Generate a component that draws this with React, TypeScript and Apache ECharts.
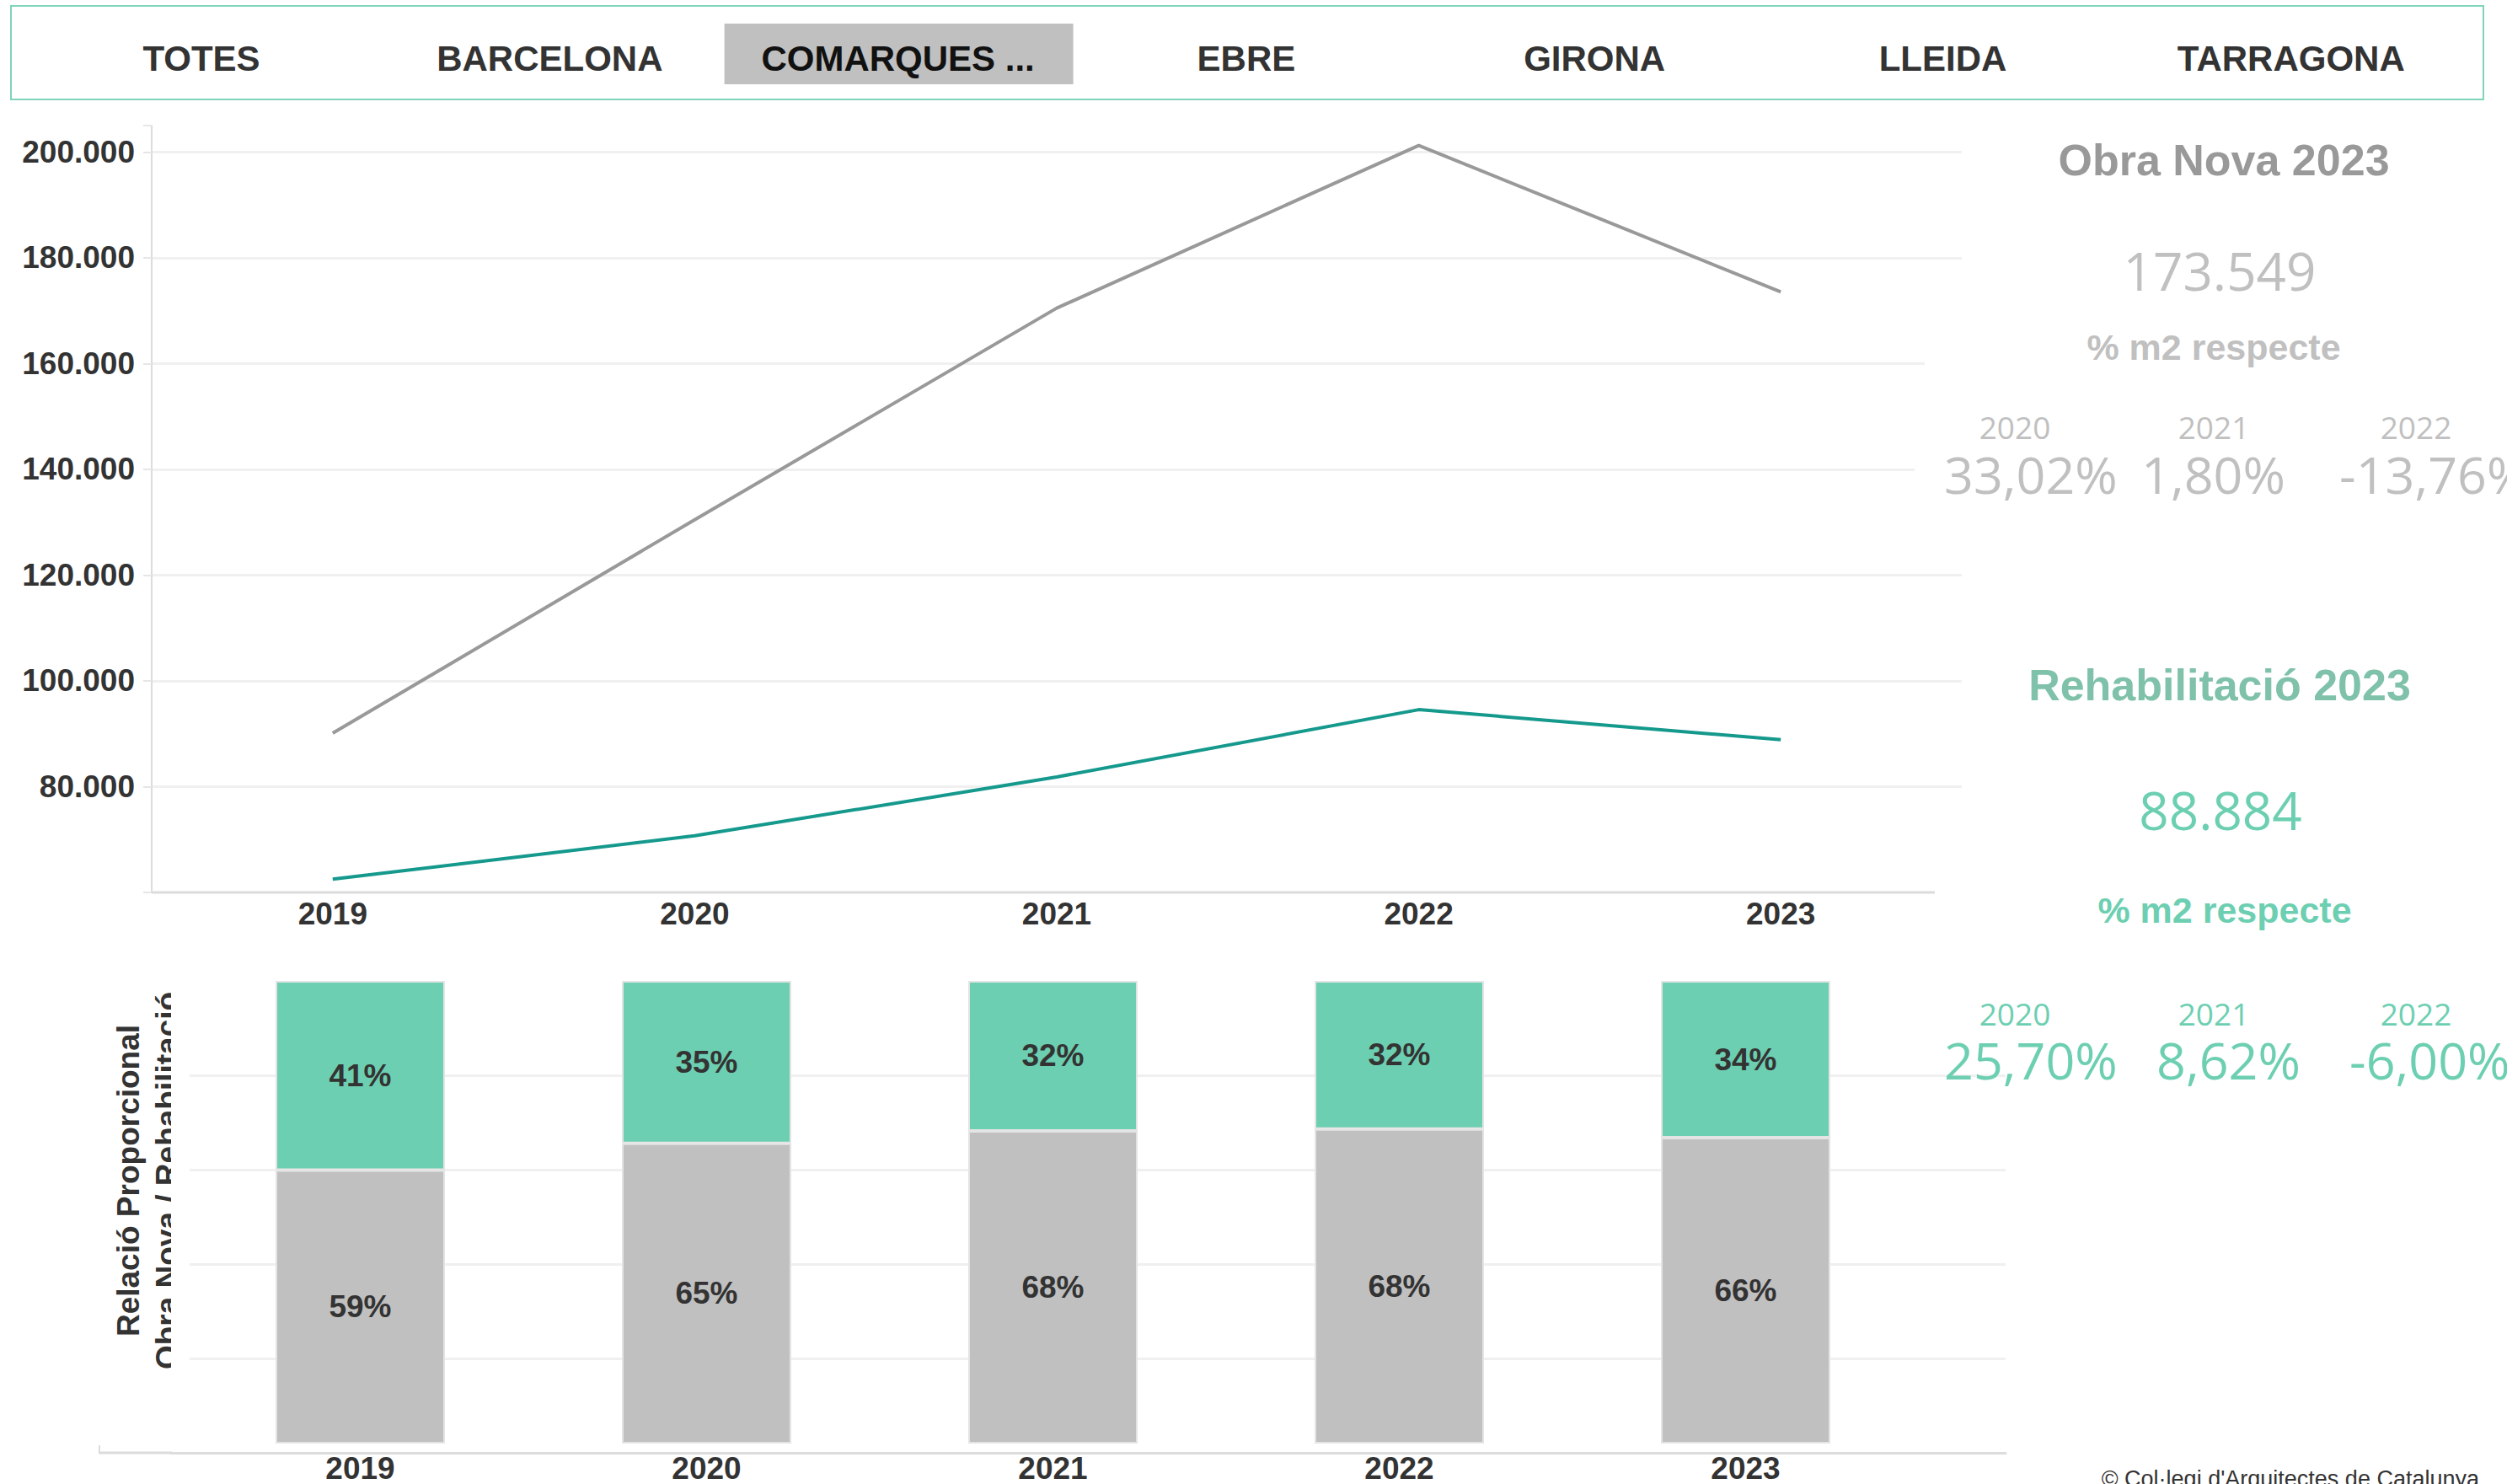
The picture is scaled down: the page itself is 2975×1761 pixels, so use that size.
import React, { useEffect, useRef } from 'react';
import * as echarts from 'echarts';

// ---------- data ----------
const years = ['2019', '2020', '2021', '2022', '2023'];
const obraNova = [90100, 130470, 170480, 201240, 173549];
const rehabilitacio = [62500, 70710, 81830, 94560, 88884];
const shareObraNova = [59.1, 64.9, 67.6, 68.0, 66.1];
const shareRehab = [40.9, 35.1, 32.4, 32.0, 33.9];
const filterButtons = ['TOTES', 'BARCELONA', 'COMARQUES ...', 'EBRE', 'GIRONA', 'LLEIDA', 'TARRAGONA'];
const selectedButton = 'COMARQUES ...';
const compareYears = ['2020', '2021', '2022'];
const obraNovaChange = ['33,02%', '1,80%', '-13,76%'];
const rehabChange = ['25,70%', '8,62%', '-6,00%'];
const obraNovaTitle = 'Obra Nova 2023';
const rehabTitle = 'Rehabilitació 2023';
const obraNovaTotal = '173.549';
const rehabTotal = '88.884';
const respecteLabel = '% m2 respecte';
const yAxisTitle = ['Relació Proporcional', 'Obra Nova / Rehabilitació'];
const copyright = '© Col·legi d\'Arquitectes de Catalunya';

// ---------- styles ----------
const SANS = 'Liberation Sans, Arial, sans-serif';
const LIGHT = 'Open Sans, Noto Sans, sans-serif';
const GRAY_TXT = '#c0c0c0';
const GREEN = '#6dcfb1';
const DARK = '#333333';

const fmtThousands = (v: number) => String(v).replace(/\B(?=(\d{3})+(?!\d))/g, '.');

function txt(x: number, y: number, text: string, o: any = {}) {
  const align = o.align || 'center';
  const valign = o.valign || 'middle';
  return {
    type: 'text',
    x,
    y,
    rotation: o.rotation || 0,
    z: o.z ?? 10,
    style: {
      text,
      fontSize: o.size || 20,
      fontWeight: o.weight || 'normal',
      fontFamily: o.family || SANS,
      fill: o.color || DARK,
      align,
      textAlign: align,
      verticalAlign: valign,
      textVerticalAlign: valign,
    },
  };
}

export default function App() {
  const ref = useRef<HTMLDivElement>(null);

  useEffect(() => {
    if (!ref.current) return;
    const chart = echarts.init(ref.current, undefined, { renderer: 'svg' });

    const graphics: any[] = [];
    // filter bar
    graphics.push({
      type: 'rect',
      z: 1,
      shape: { x: 13, y: 7, width: 2934, height: 111 },
      style: { fill: '#ffffff', stroke: '#80d4bb', lineWidth: 2 },
    });
    const btnX0 = 239;
    const btnStep = 413.3;
    filterButtons.forEach((b, i) => {
      const cx = btnX0 + i * btnStep;
      if (b === selectedButton) {
        graphics.push({
          type: 'rect',
          z: 2,
          shape: { x: cx - 206, y: 28, width: 414, height: 72 },
          style: { fill: '#c0c0c0' },
        });
      }
      graphics.push(txt(cx, 69, b, { size: 42, weight: 'bold', color: b === selectedButton ? '#111' : DARK, z: 3 }));
    });

    // right panel: Obra Nova
    graphics.push(txt(2639, 190, obraNovaTitle, { size: 52, weight: 'bold', color: '#999999' }));
    graphics.push(txt(2634, 321, obraNovaTotal, { size: 62, family: LIGHT, color: GRAY_TXT }));
    graphics.push(txt(2627, 412, respecteLabel, { size: 43, weight: 'bold', color: GRAY_TXT }));
    const yearCx = [2391, 2627, 2867];
    const obraPctX = [2307, 2541, 2776];
    const rehabPctX = [2307, 2559, 2788];
    compareYears.forEach((y, i) => {
      graphics.push(txt(yearCx[i], 506, y, { size: 37, family: LIGHT, color: GRAY_TXT }));
      graphics.push(txt(obraPctX[i], 562, obraNovaChange[i], { size: 61, family: LIGHT, color: GRAY_TXT, align: 'left' }));
    });

    // right panel: Rehabilitació
    graphics.push(txt(2634, 813, rehabTitle, { size: 52, weight: 'bold', color: '#7fc2a9' }));
    graphics.push(txt(2635, 961, rehabTotal, { size: 62, family: LIGHT, color: GREEN }));
    graphics.push(txt(2640, 1080, respecteLabel, { size: 43, weight: 'bold', color: GREEN }));
    compareYears.forEach((y, i) => {
      graphics.push(txt(yearCx[i], 1202, y, { size: 37, family: LIGHT, color: GREEN }));
      graphics.push(txt(rehabPctX[i], 1257, rehabChange[i], { size: 61, family: LIGHT, color: GREEN, align: 'left' }));
    });

    // white masks where the text boxes cover gridlines
    graphics.push({ type: 'rect', z: 5, shape: { x: 2284, y: 424, width: 60, height: 14 }, style: { fill: '#ffffff' } });
    graphics.push({ type: 'rect', z: 5, shape: { x: 2272, y: 549, width: 70, height: 14 }, style: { fill: '#ffffff' } });

    // top chart category axis line (shorter than the plot area, as in the original)
    graphics.push({ type: 'line', z: 4, shape: { x1: 180, y1: 1059, x2: 2296, y2: 1059 }, style: { stroke: '#dcdcdc', lineWidth: 3 } });

    // bottom chart y title (rotated, second line clipped)
    graphics.push(txt(152, 1401, yAxisTitle[0], { size: 37, weight: 'bold', rotation: Math.PI / 2 }));
    graphics.push(txt(198, 1401, yAxisTitle[1], { size: 37, weight: 'bold', rotation: Math.PI / 2 }));
    graphics.push({ type: 'rect', z: 20, shape: { x: 203, y: 1160, width: 22, height: 480 }, style: { fill: '#ffffff' } });

    // bottom axis extension with small tick at the left end
    graphics.push({ type: 'line', z: 4, shape: { x1: 117, y1: 1724, x2: 204, y2: 1724 }, style: { stroke: '#dcdcdc', lineWidth: 3 } });
    graphics.push({ type: 'line', z: 4, shape: { x1: 118, y1: 1715, x2: 118, y2: 1724 }, style: { stroke: '#dcdcdc', lineWidth: 2 } });

    // copyright
    graphics.push(txt(2942, 1755, copyright, { size: 27, color: DARK, align: 'right' }));

    const barLabel = {
      show: true,
      position: 'inside',
      formatter: (p: any) => Math.round(p.value) + '%',
      fontSize: 37,
      fontWeight: 'bold',
      fontFamily: SANS,
      color: DARK,
      textBorderWidth: 0,
    };

    const option: any = {
      animation: false,
      backgroundColor: '#ffffff',
      textStyle: { fontFamily: SANS },
      grid: [
        { left: 180, top: 149, width: 2148, height: 910 },
        { left: 222, top: 1164, width: 2055, height: 558 },
        { left: 203, top: 1164, width: 2177, height: 560 },
      ],
      xAxis: [
        {
          gridIndex: 0,
          type: 'category',
          data: years,
          boundaryGap: true,
          axisLine: { show: false },
          axisTick: { show: false },
          axisLabel: { color: DARK, fontSize: 37, fontWeight: 'bold', fontFamily: SANS, margin: 7 },
          splitLine: { show: false },
        },
        {
          gridIndex: 1,
          type: 'category',
          data: years,
          axisLine: { show: false },
          axisTick: { show: false },
          axisLabel: { color: DARK, fontSize: 37, fontWeight: 'bold', fontFamily: SANS, margin: 11 },
          splitLine: { show: false },
        },
        {
          gridIndex: 2,
          type: 'value',
          min: 0,
          max: 1,
          axisLine: { show: true, lineStyle: { color: '#dcdcdc', width: 3 } },
          axisTick: { show: false },
          axisLabel: { show: false },
          splitLine: { show: false },
        },
      ],
      yAxis: [
        {
          gridIndex: 0,
          type: 'value',
          min: 60000,
          max: 205000,
          interval: 20000,
          axisLine: { show: true, lineStyle: { color: '#dcdcdc', width: 2 } },
          axisTick: { show: true, length: 10, lineStyle: { color: '#e6e6e6', width: 2 } },
          axisLabel: {
            color: DARK,
            fontSize: 37,
            fontWeight: 'bold',
            fontFamily: SANS,
            margin: 20,
            formatter: (v: number) => (v <= 60000 || v % 20000 !== 0 ? '' : fmtThousands(v)),
          },
          splitLine: { show: true, showMinLine: false, showMaxLine: false, lineStyle: { color: '#f0f0f0', width: 3 } },
        },
        { gridIndex: 1, type: 'value', min: 0, max: 100, show: false },
        {
          gridIndex: 2,
          type: 'value',
          min: 0,
          max: 100,
          interval: 20,
          axisLine: { show: false },
          axisTick: { show: false },
          axisLabel: { show: false },
          splitLine: { show: true, showMinLine: false, showMaxLine: false, lineStyle: { color: '#f0f0f0', width: 3 } },
        },
      ],
      series: [
        {
          type: 'line',
          name: 'Obra Nova',
          xAxisIndex: 0,
          yAxisIndex: 0,
          data: obraNova,
          symbol: 'none',
          lineStyle: { color: '#999999', width: 4 },
          itemStyle: { color: '#999999' },
          z: 3,
        },
        {
          type: 'line',
          name: 'Rehabilitació',
          xAxisIndex: 0,
          yAxisIndex: 0,
          data: rehabilitacio,
          symbol: 'none',
          lineStyle: { color: '#15998d', width: 4 },
          itemStyle: { color: '#15998d' },
          z: 3,
        },
        {
          type: 'bar',
          name: 'Obra Nova %',
          xAxisIndex: 1,
          yAxisIndex: 1,
          stack: 'rel',
          data: shareObraNova,
          barWidth: 201,
          itemStyle: { color: '#c0c0c0', borderColor: '#e4e4e4', borderWidth: 2 },
          label: barLabel,
          z: 3,
        },
        {
          type: 'bar',
          name: 'Rehabilitació %',
          xAxisIndex: 1,
          yAxisIndex: 1,
          stack: 'rel',
          data: shareRehab,
          barWidth: 201,
          itemStyle: { color: GREEN, borderColor: '#e4e4e4', borderWidth: 2 },
          label: barLabel,
          z: 3,
        },
      ],
      graphic: { elements: graphics },
    };

    chart.setOption(option);
    return () => chart.dispose();
  }, []);

  return (
    <div
      ref={ref}
      style={{ position: 'absolute', left: 0, top: 0, width: 2975, height: 1761, background: '#fff' }}
    />
  );
}
